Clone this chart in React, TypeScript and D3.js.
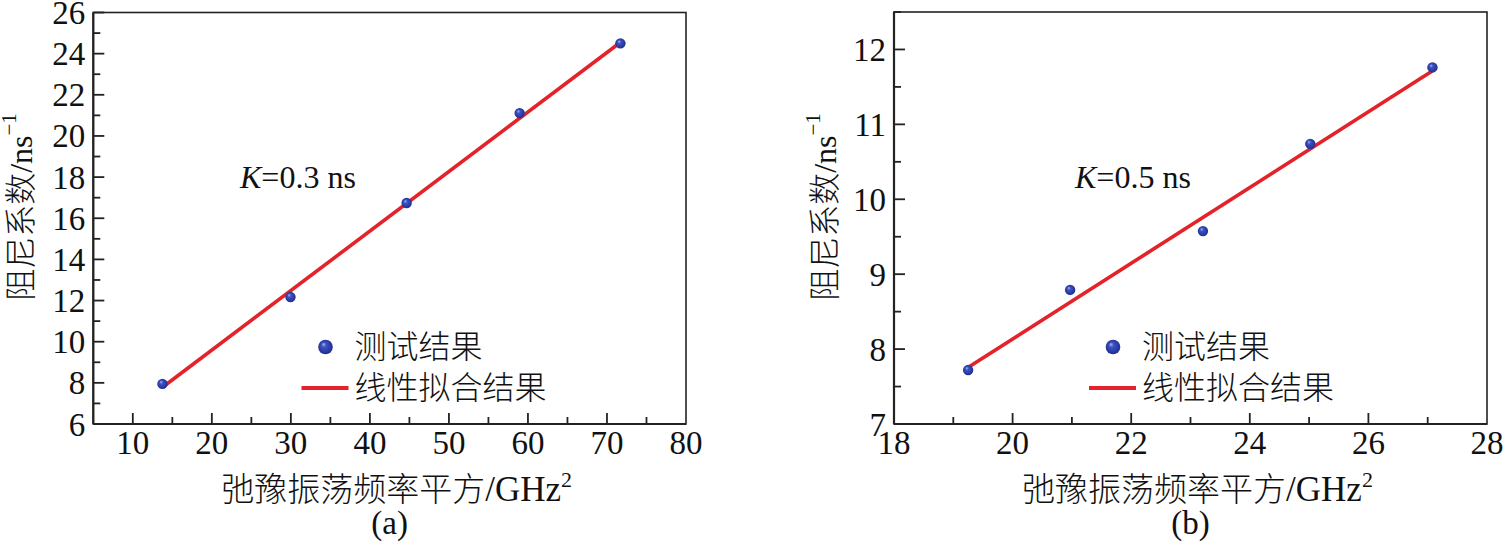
import React from "react";
import * as d3 from "d3";

// Panel (a)
const xA = [13.75, 29.95, 44.65, 58.95, 71.7];
const yA = [7.95, 12.17, 16.74, 21.11, 24.5];
const fitXA = [13.8, 71.3];
const fitYA = [7.8, 24.43];
const xTicksA = [10, 20, 30, 40, 50, 60, 70, 80];
const xMinorA = [15, 25, 35, 45, 55, 65, 75];
const yTicksA = [6, 8, 10, 12, 14, 16, 18, 20, 22, 24, 26];
const yMinorA = [7, 9, 11, 13, 15, 17, 19, 21, 23, 25];

// Panel (b)
const xB = [19.25, 20.97, 23.21, 25.02, 27.08];
const yB = [7.72, 8.79, 9.575, 10.74, 11.76];
const fitXB = [19.28, 27.07];
const fitYB = [7.77, 11.71];
const xTicksB = [18, 20, 22, 24, 26, 28];
const xMinorB = [19, 21, 23, 25, 27];
const yTicksB = [7, 8, 9, 10, 11, 12];
const yMinorB = [7.5, 8.5, 9.5, 10.5, 11.5, 12.5];

const legendLabels = ["测试结果", "线性拟合结果"];
const kLabels = ["0.3", "0.5"];
const panelLabels = ["(a)", "(b)"];

const SERIF = "'Liberation Serif', 'Times New Roman', 'Noto Sans CJK SC', serif";
const RED = "#e42229";
const AXIS = "#222";

type PanelProps = {
  left: number;
  right: number;
  top: number;
  bottom: number;
  xDomain: [number, number];
  yDomain: [number, number];
  xs: number[];
  ys: number[];
  fitX: number[];
  fitY: number[];
  xTicks: number[];
  xMinor: number[];
  yTicks: number[];
  yMinor: number[];
  kLabel: string;
  kX: number;
  legendX: number;
  yTitleX: number;
  panelLabel: string;
};

function Panel(p: PanelProps) {
  const x = d3.scaleLinear().domain(p.xDomain).range([p.left, p.right]);
  const y = d3.scaleLinear().domain(p.yDomain).range([p.bottom, p.top]);
  const fitLine = d3
    .line<number>()
    .x((_, i) => x(p.fitX[i]))
    .y((d) => y(d));
  const cx = (p.left + p.right) / 2;
  const fs = 33;
  return (
    <g>
      {/* frame */}
      <rect
        x={p.left}
        y={p.top}
        width={p.right - p.left}
        height={p.bottom - p.top}
        fill="none"
        stroke={AXIS}
        strokeWidth={1.6}
      />
      <line x1={p.left} x2={p.left} y1={p.top} y2={p.bottom} stroke={AXIS} strokeWidth={2.2} />
      <line x1={p.left} x2={p.right} y1={p.bottom} y2={p.bottom} stroke={AXIS} strokeWidth={2.2} />
      {/* y ticks */}
      {p.yTicks.map((t) => (
        <g key={"yt" + t}>
          {t !== p.yDomain[0] && (
            <line x1={p.left} x2={p.left + 11} y1={y(t)} y2={y(t)} stroke={AXIS} strokeWidth={1.8} />
          )}
          <text
            x={p.left - 8}
            y={y(t) + 11.5}
            textAnchor="end"
            fontFamily={SERIF}
            fontSize={fs}
            fill="#111"
          >
            {t}
          </text>
        </g>
      ))}
      {p.yMinor.map((t) => (
        <line key={"ym" + t} x1={p.left} x2={p.left + 7} y1={y(t)} y2={y(t)} stroke={AXIS} strokeWidth={1.8} />
      ))}
      {/* x ticks */}
      {p.xTicks.map((t) => (
        <g key={"xt" + t}>
          {t !== p.xDomain[0] && t !== p.xDomain[1] && (
            <line x1={x(t)} x2={x(t)} y1={p.bottom} y2={p.bottom - 11} stroke={AXIS} strokeWidth={1.8} />
          )}
          <text
            x={x(t)}
            y={p.bottom + 30}
            textAnchor="middle"
            fontFamily={SERIF}
            fontSize={fs}
            fill="#111"
          >
            {t}
          </text>
        </g>
      ))}
      {p.xMinor.map((t) => (
        <line key={"xm" + t} x1={x(t)} x2={x(t)} y1={p.bottom} y2={p.bottom - 7} stroke={AXIS} strokeWidth={1.8} />
      ))}
      {/* fit line */}
      <path d={fitLine(p.fitY) || ""} fill="none" stroke={RED} strokeWidth={3.6} />
      {/* points */}
      {p.xs.map((v, i) => (
        <circle key={"pt" + i} cx={x(v)} cy={y(p.ys[i])} r={5.2} fill="url(#ballGrad)" />
      ))}
      {/* K annotation */}
      <text x={p.kX} y={188} fontFamily={SERIF} fontSize={32} fill="#111">
        <tspan fontStyle="italic">K</tspan>
        {"=" + p.kLabel + " ns"}
      </text>
      {/* legend */}
      <circle cx={p.legendX} cy={347} r={7.3} fill="url(#ballGrad)" />
      <text
        x={p.legendX + 29}
        y={347}
        dominantBaseline="central"
        fontFamily={SERIF}
        fontSize={32}
        fontWeight={300}
        fill="#111"
      >
        {legendLabels[0]}
      </text>
      <line
        x1={p.legendX - 24}
        x2={p.legendX + 23}
        y1={388}
        y2={388}
        stroke={RED}
        strokeWidth={4}
      />
      <text
        x={p.legendX + 29}
        y={388}
        dominantBaseline="central"
        fontFamily={SERIF}
        fontSize={32}
        fontWeight={300}
        fill="#111"
      >
        {legendLabels[1]}
      </text>
      {/* x title */}
      <text
        x={cx + 7}
        y={501}
        textAnchor="middle"
        fontFamily={SERIF}
        fontSize={33}
        fontWeight={300}
        fill="#111"
      >
        {"弛豫振荡频率平方"}
        <tspan fontSize={35}>{"/GHz"}</tspan>
        <tspan fontSize={22} dy={-14}>
          2
        </tspan>
      </text>
      {/* y title */}
      <text
        transform={`translate(${p.yTitleX},207) rotate(-90)`}
        textAnchor="middle"
        dominantBaseline="central"
        fontFamily={SERIF}
        fontSize={32}
        fontWeight={300}
        fill="#111"
      >
        {"阻尼系数/ns"}
        <tspan fontSize={21} dy={-12}>
          {"−1"}
        </tspan>
      </text>
      {/* panel label */}
      <text x={cx} y={534} textAnchor="middle" fontFamily={SERIF} fontSize={33} fill="#111">
        {p.panelLabel}
      </text>
    </g>
  );
}

export default function App() {
  return (
    <div style={{ position: "absolute", left: 0, top: 0, background: "#fff" }}>
      <svg width={1505} height={549} viewBox="0 0 1505 549" style={{ display: "block" }}>
        <defs>
          <radialGradient id="ballGrad" cx="50%" cy="50%" r="55%" fx="35%" fy="30%">
            <stop offset="0%" stopColor="#a9b6f0" />
            <stop offset="30%" stopColor="#3d52c4" />
            <stop offset="100%" stopColor="#1c2a8a" />
          </radialGradient>
        </defs>
        <rect width={1505} height={549} fill="#fff" />
        <Panel
          left={93.3}
          right={686}
          top={12.5}
          bottom={424}
          xDomain={[5, 80]}
          yDomain={[6, 26]}
          xs={xA}
          ys={yA}
          fitX={fitXA}
          fitY={fitYA}
          xTicks={xTicksA}
          xMinor={xMinorA}
          yTicks={yTicksA}
          yMinor={yMinorA}
          kLabel={kLabels[0]}
          kX={240}
          legendX={325.5}
          yTitleX={21}
          panelLabel={panelLabels[0]}
        />
        <Panel
          left={894}
          right={1487}
          top={12}
          bottom={424}
          xDomain={[18, 28]}
          yDomain={[7, 12.5]}
          xs={xB}
          ys={yB}
          fitX={fitXB}
          fitY={fitYB}
          xTicks={xTicksB}
          xMinor={xMinorB}
          yTicks={yTicksB}
          yMinor={yMinorB}
          kLabel={kLabels[1]}
          kX={1075}
          legendX={1113}
          yTitleX={825}
          panelLabel={panelLabels[1]}
        />
      </svg>
    </div>
  );
}
